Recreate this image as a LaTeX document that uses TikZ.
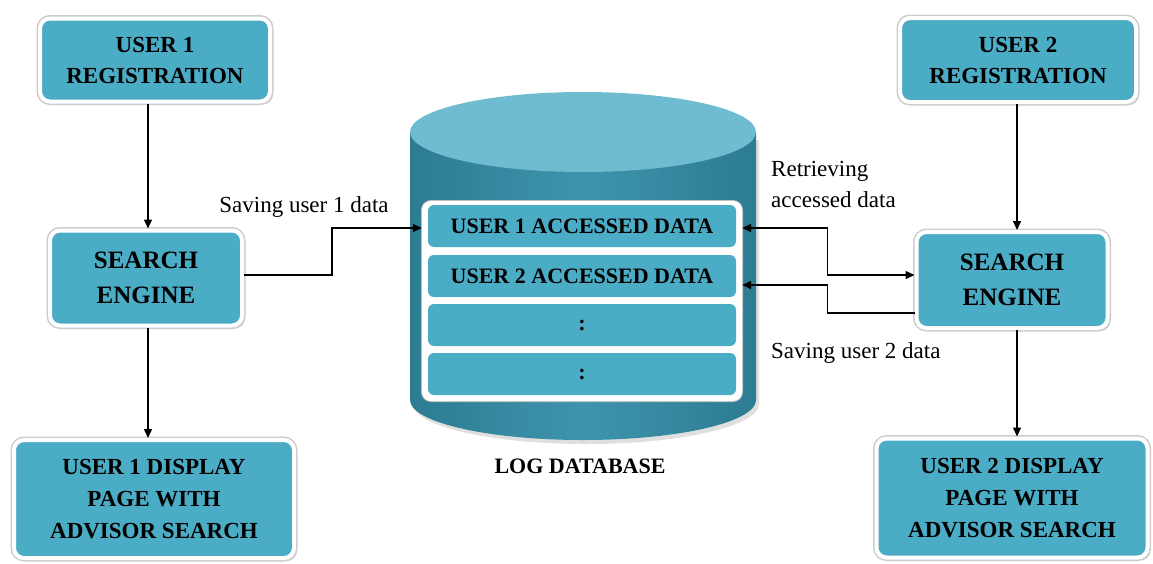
\documentclass[tikz,border=0pt]{standalone}
\usepackage{fontspec}
\setmainfont{Liberation Serif}
\usetikzlibrary{shadows,arrows.meta,calc}
\definecolor{boxfill}{RGB}{75,172,198}
\definecolor{cylside}{RGB}{44,124,146}
\definecolor{cylmid}{RGB}{62,148,172}
\definecolor{cyltop}{RGB}{111,188,208}
\begin{document}
\begin{tikzpicture}[x=1pt,y=-1pt,
  blk/.style={rounded corners=10pt, fill=boxfill, draw=white, line width=4pt,
    align=center, inner sep=0pt, text=black,
    font=\bfseries\fontsize{23}{31}\selectfont,
    drop shadow={shadow xshift=3pt, shadow yshift=-3pt, opacity=0.35, fill=black!50},
    preaction={draw=black!20, line width=7pt}},
  slot/.style={rounded corners=6pt, fill=boxfill, minimum width=308pt,
    minimum height=42pt, inner sep=0pt, font=\bfseries\fontsize{22}{25}\selectfont},
  lbl/.style={font=\fontsize{23}{31}\selectfont, inner sep=0pt},
  arr/.style={line width=1.4pt, -{Triangle[length=9pt,width=8pt]}},
  both/.style={line width=1.4pt, {Triangle[length=9pt,width=8pt]}-{Triangle[length=9pt,width=8pt]}}
]
\useasboundingbox (0,0) rectangle (1153,563);

% user 1 column
\node[blk, minimum width=230pt, minimum height=83pt] (r1) at (155,60) {USER 1\\REGISTRATION};
\node[blk, minimum width=192pt, minimum height=95pt, font=\bfseries\fontsize{25}{35}\selectfont] (s1) at (146,278) {SEARCH\\ENGINE};
\node[blk, minimum width=280pt, minimum height=118pt, font=\bfseries\fontsize{23}{32}\selectfont] (d1) at (154,499) {USER 1 DISPLAY\\PAGE WITH\\ADVISOR SEARCH};

% user 2 column
\node[blk, minimum width=236pt, minimum height=84pt] (r2) at (1018,60) {USER 2\\REGISTRATION};
\node[blk, minimum width=191pt, minimum height=96pt, font=\bfseries\fontsize{25}{35}\selectfont] (s2) at (1012,280) {SEARCH\\ENGINE};
\node[blk, minimum width=271pt, minimum height=119pt, font=\bfseries\fontsize{23}{32}\selectfont] (d2) at (1012,498) {USER 2 DISPLAY\\PAGE WITH\\ADVISOR SEARCH};

% log database cylinder
\fill[black!25, opacity=0.5] (413,140) -- (413,404) arc[start angle=180, end angle=0, x radius=173, y radius=40] -- (759,140) -- cycle;
\shade[left color=cylside, right color=cylside, middle color=cylmid]
  (410,132) -- (410,400) arc[start angle=180, end angle=0, x radius=173, y radius=40] -- (756,132) -- cycle;
\fill[cyltop] (583,132) ellipse[x radius=173, y radius=40];

\node[fill=white, rounded corners=9pt, minimum width=320pt, minimum height=200pt, inner sep=0pt,
  preaction={draw=black!25, line width=2pt}] (store) at (582,301) {};
\node[slot] (slot1) at (582,226) {USER 1 ACCESSED DATA};
\node[slot] (slot2) at (582,276) {USER 2 ACCESSED DATA};
\node[slot] (slot3) at (582,325) {:};
\node[slot] (slot4) at (582,374) {:};
\node[font=\bfseries\fontsize{22}{26}\selectfont, inner sep=0pt] (dbname) at (580,466) {LOG DATABASE};

% vertical flows
\draw[arr] (r1.south -| s1.north) ++(2,0) coordinate (a1) -- (a1 |- s1.north);
\draw[arr] ($(s1.south)+(2,0)$) coordinate (a2) -- (a2 |- d1.north);
\draw[arr] ($(r2.south -| s2.north)+(5,0)$) coordinate (a3) -- (a3 |- s2.north);
\draw[arr] ($(s2.south)+(5,0)$) coordinate (a4) -- (a4 |- d2.north);

% saving and retrieving
\coordinate (in1) at ($(store.west |- slot1.west)+(0,2)$);
\coordinate (out1) at ($(s1.east)+(0,-3)$);
\draw[arr] (out1) -| ($(in1)+(-90,0)$) -- (in1);

\coordinate (rin1) at ($(store.east |- slot1.east)+(0,2)$);
\coordinate (rin2) at ($(store.east |- slot2.east)+(0,9)$);
\coordinate (sin2) at ($(s2.west)+(0,-5)$);
\coordinate (sout2) at ($(s2.west)+(0,33)$);
\draw[both] (rin1) -- ++(85,0) |- (sin2);
\draw[arr] (sout2) -| ($(rin2)+(85,0)$) -- (rin2);

\node[lbl, anchor=base] (t1) at (304,212) {Saving user 1 data};
\node[lbl, anchor=west, align=left] (t2) at (771,184) {Retrieving\\accessed data};
\node[lbl, anchor=base west] (t3) at (771,358) {Saving user 2 data};
\end{tikzpicture}
\end{document}
